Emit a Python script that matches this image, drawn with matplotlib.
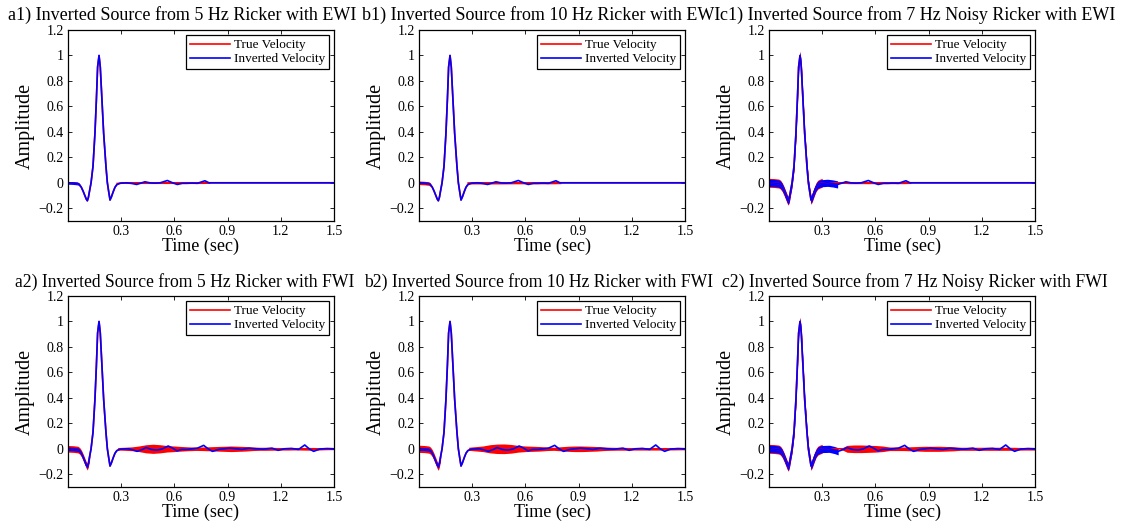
import matplotlib
matplotlib.use("Agg")
import matplotlib.pyplot as plt
from matplotlib.ticker import FixedLocator, FixedFormatter

plt.rcParams['font.family'] = ['Liberation Serif', 'DejaVu Serif']

# ---------------- data ----------------
titles = [
    "a1) Inverted Source from 5 Hz Ricker with EWI",
    "b1) Inverted Source from 10 Hz Ricker with EWI",
    "c1) Inverted Source from 7 Hz Noisy Ricker with EWI",
    "a2) Inverted Source from 5 Hz Ricker with FWI",
    "b2) Inverted Source from 10 Hz Ricker with FWI",
    "c2) Inverted Source from 7 Hz Noisy Ricker with FWI",
]
legend_labels = ["True Velocity", "Inverted Velocity"]
x_ticks = [0.3, 0.6, 0.9, 1.2, 1.5]
x_tick_labels = ["0.3", "0.6", "0.9", "1.2", "1.5"]
y_ticks = [-0.2, 0.0, 0.2, 0.4, 0.6, 0.8, 1.0, 1.2]
y_tick_labels = ["\u22120.2", "0", "0.2", "0.4", "0.6", "0.8", "1", "1.2"]

# main source pulse (shared by all panels)
time_pulse = [0.000, 0.030, 0.055, 0.065, 0.075, 0.085, 0.095, 0.103, 0.109,
              0.115, 0.122, 0.130, 0.141, 0.152, 0.160, 0.167, 0.175, 0.182,
              0.1915, 0.201, 0.214, 0.222, 0.229, 0.237, 0.245, 0.255, 0.265,
              0.275, 0.288]
amp_pulse = [0.000, -0.002, -0.006, -0.015, -0.035, -0.065, -0.100, -0.128, -0.141,
             -0.115, -0.060, 0.000, 0.130, 0.390, 0.650, 0.910, 1.000, 0.910,
             0.650, 0.390, 0.130, 0.000, -0.065, -0.135, -0.110, -0.070, -0.035,
             -0.015, -0.006]

# tail after the pulse: true velocity (red) is flat
time_tail_true = [0.30, 1.50]
amp_tail_true = [0.0, 0.0]

# tail of inverted source, EWI row
time_tail_ewi = [0.30, 0.33, 0.36, 0.387, 0.41, 0.434, 0.46, 0.49, 0.52, 0.56,
                 0.59, 0.616, 0.645, 0.67, 0.70, 0.73, 0.772, 0.795, 0.82, 1.50]
amp_tail_ewi = [-0.003, 0.000, -0.005, -0.013, -0.003, 0.008, 0.000, -0.003, 0.000, 0.018,
                0.000, -0.013, -0.004, -0.004, -0.002, -0.004, 0.016, 0.000, 0.000, 0.000]

# tail of inverted source, FWI row
time_tail_fwi = [0.30, 0.34, 0.37, 0.39, 0.42, 0.44, 0.47, 0.50, 0.53, 0.565,
                 0.59, 0.615, 0.64, 0.67, 0.70, 0.73, 0.765, 0.79, 0.815, 0.85,
                 0.88, 0.91, 0.95, 0.98, 1.02, 1.06, 1.10, 1.15, 1.185, 1.22,
                 1.26, 1.30, 1.335, 1.36, 1.385, 1.42, 1.46, 1.50]
amp_tail_fwi = [-0.002, 0.000, -0.010, -0.020, -0.005, 0.010, -0.005, -0.010, -0.002, 0.022,
                0.005, -0.016, -0.005, -0.005, 0.000, 0.005, 0.027, 0.000, -0.020, -0.005,
                0.000, 0.005, 0.000, -0.005, 0.005, 0.000, -0.003, 0.005, -0.012, 0.000,
                0.003, -0.005, 0.030, 0.000, -0.020, -0.002, 0.002, 0.000]

# noise on the early part of each trace (end time, half width), panels a1..c2
true_noise_end = [0.0, 0.065, 0.40, 0.125, 0.125, 0.40]
true_noise_amp = [0.0, 0.014, 0.035, 0.026, 0.028, 0.035]
inv_noise_end = [0.065, 0.065, 0.40, 0.125, 0.125, 0.40]
inv_noise_amp = [0.011, 0.005, 0.028, 0.014, 0.012, 0.028]

# half width of the noisy red band in the tail
env_time_ewi = [0.27, 0.35, 0.45, 0.55, 0.65, 0.75, 0.80]
env_true_a1 = [0.005, 0.006, 0.006, 0.006, 0.006, 0.006, 0.005]
env_true_b1 = [0.009, 0.009, 0.009, 0.008, 0.008, 0.008, 0.007]
env_true_c1 = [0.000, 0.000, 0.007, 0.007, 0.007, 0.007, 0.006]

env_time_fwi = [0.28, 0.32, 0.36, 0.40, 0.44, 0.48, 0.52, 0.56, 0.60, 0.64,
                0.68, 0.72, 0.76, 0.80, 0.84, 0.88, 0.92, 0.96, 1.00, 1.04,
                1.08, 1.12, 1.16, 1.20, 1.24, 1.28, 1.32, 1.36, 1.40, 1.44,
                1.48, 1.50]
env_true_a2 = [0.010, 0.012, 0.015, 0.022, 0.032, 0.036, 0.032, 0.025, 0.022, 0.018,
               0.015, 0.013, 0.014, 0.016, 0.018, 0.020, 0.022, 0.020, 0.018, 0.014,
               0.012, 0.012, 0.011, 0.010, 0.010, 0.009, 0.010, 0.011, 0.010, 0.008,
               0.007, 0.007]
env_true_b2 = [0.012, 0.017, 0.022, 0.032, 0.037, 0.038, 0.034, 0.026, 0.022, 0.020,
               0.018, 0.014, 0.012, 0.016, 0.020, 0.022, 0.022, 0.020, 0.018, 0.014,
               0.012, 0.011, 0.011, 0.010, 0.010, 0.010, 0.010, 0.010, 0.009, 0.009,
               0.008, 0.008]
env_true_c2 = [0.000, 0.000, 0.000, 0.000, 0.027, 0.030, 0.030, 0.028, 0.026, 0.022,
               0.014, 0.014, 0.014, 0.016, 0.018, 0.020, 0.020, 0.020, 0.018, 0.016,
               0.012, 0.012, 0.012, 0.012, 0.012, 0.012, 0.012, 0.012, 0.011, 0.010,
               0.010, 0.010]

env_times = [env_time_ewi] * 3 + [env_time_fwi] * 3
env_true = [env_true_a1, env_true_b1, env_true_c1, env_true_a2, env_true_b2, env_true_c2]

# ---------------- layout (pixels) ----------------
W, H = 1138, 529
col_left = [68, 419, 769]
row_top = [30, 296]
ax_w, ax_h = 266, 191
title_x = [8, 362, 720, 15, 364, 722]
title_y = [15, 282]
title_size = [13, 12.7]

fig = plt.figure(figsize=(W / 100, H / 100), dpi=100)

for i in range(6):
    r, c = divmod(i, 3)
    l = col_left[c]
    t = row_top[r]
    ax = fig.add_axes([l / W, 1 - (t + ax_h) / H, ax_w / W, ax_h / H])

    tail_t = time_tail_ewi if r == 0 else time_tail_fwi
    tail_a = amp_tail_ewi if r == 0 else amp_tail_fwi
    t_true = time_pulse + time_tail_true
    a_true = amp_pulse + amp_tail_true
    t_inv = time_pulse + tail_t
    a_inv = amp_pulse + tail_a

    # true velocity (red)
    et, ev = env_times[i], env_true[i]
    ax.fill_between(et, [-v for v in ev], ev, color='red', lw=0)
    if true_noise_amp[i] > 0:
        sel = [k for k, tt in enumerate(t_true) if tt <= true_noise_end[i]]
        tt_ = [t_true[k] for k in sel]
        lo = [a_true[k] - true_noise_amp[i] for k in sel]
        hi = [a_true[k] + true_noise_amp[i] for k in sel]
        ax.fill_between(tt_, lo, hi, color='red', lw=0)
    ax.plot(t_true, a_true, color='red', lw=1.2, label=legend_labels[0])

    # inverted velocity (blue)
    if inv_noise_amp[i] > 0:
        sel = [k for k, tt in enumerate(t_inv) if tt <= inv_noise_end[i]]
        tt_ = [t_inv[k] for k in sel]
        lo = [a_inv[k] - inv_noise_amp[i] for k in sel]
        hi = [a_inv[k] + inv_noise_amp[i] for k in sel]
        ax.fill_between(tt_, lo, hi, color='blue', lw=0)
    ax.plot(t_inv, a_inv, color='blue', lw=1.2, label=legend_labels[1])

    ax.set_xlim(0, 1.5)
    ax.set_ylim(-0.3, 1.2)
    ax.xaxis.set_major_locator(FixedLocator(x_ticks))
    ax.xaxis.set_major_formatter(FixedFormatter(x_tick_labels))
    ax.yaxis.set_major_locator(FixedLocator(y_ticks))
    ax.yaxis.set_major_formatter(FixedFormatter(y_tick_labels))
    ax.tick_params(direction='in', top=True, right=True, length=3, width=0.6,
                   labelsize=10, pad=3)
    for s in ax.spines.values():
        s.set_linewidth(0.9)
    ax.set_xlabel("Time (sec)", fontsize=13, labelpad=0)
    ax.set_ylabel("Amplitude", fontsize=14.5, labelpad=3)
    leg = ax.legend(loc='upper right', fontsize=9.5, fancybox=False, framealpha=1,
                    edgecolor='black', borderaxespad=0.4, handlelength=3.0,
                    handletextpad=0.3, labelspacing=0.12, borderpad=0.3)
    leg.get_frame().set_linewidth(0.9)

    fig.text(title_x[i] / W, 1 - title_y[r] / H, titles[i], fontsize=title_size[r],
             ha='left', va='center')

fig.savefig("out.png", dpi=100)
